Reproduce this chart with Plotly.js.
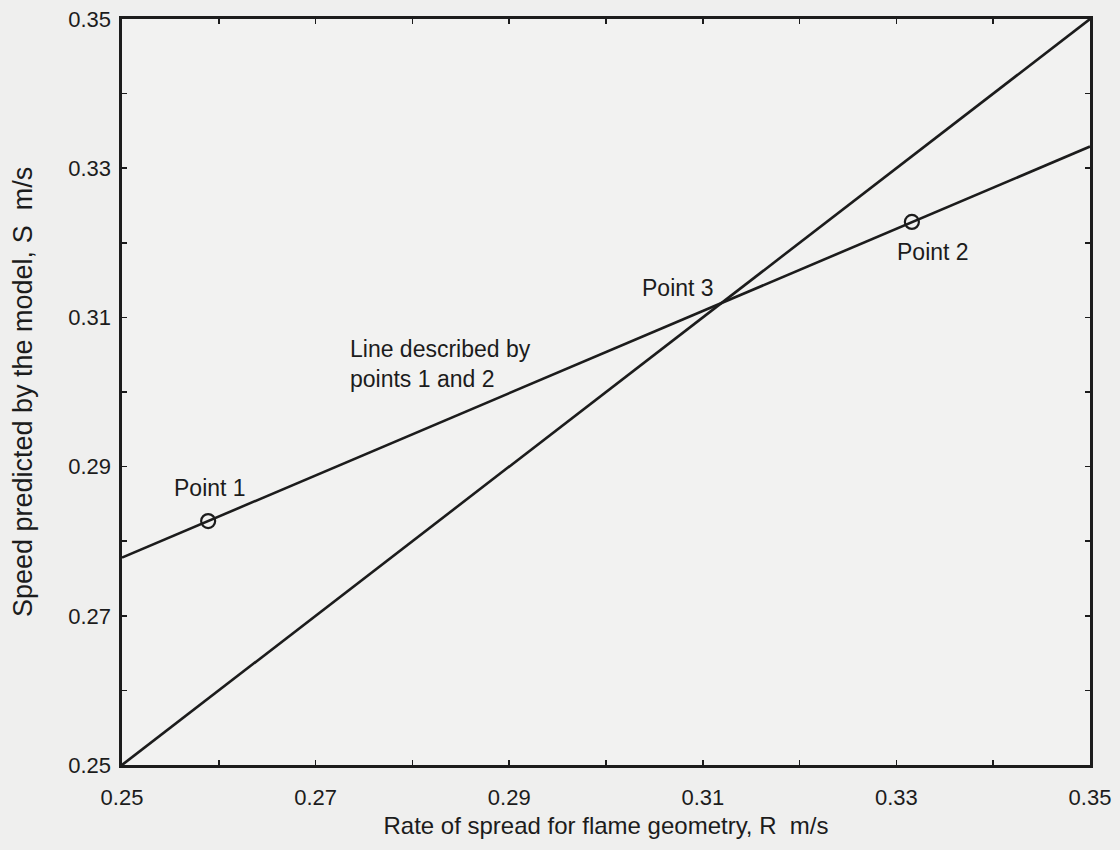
<!DOCTYPE html>
<html>
<head>
<meta charset="utf-8">
<script src="https://cdn.plot.ly/plotly-3.0.1.min.js"></script>
<style>
html,body{margin:0;padding:0;background:#efefee;}
#chart{width:1120px;height:850px;}
</style>
</head>
<body>
<div id="chart"></div>
<script>
// Data
const lineEqualX = [0.25, 0.35];
const lineEqualY = [0.25, 0.35];
const line12X = [0.25, 0.35];
const line12Y = [0.2778, 0.3329];
const pointsX = [0.2589, 0.3316];
const pointsY = [0.2827, 0.3228];
const tickVals = [0.25,0.26,0.27,0.28,0.29,0.30,0.31,0.32,0.33,0.34,0.35];
const tickLabels = ['0.25','','0.27','','0.29','','0.31','','0.33','','0.35'];
const labelTexts = ['Point 1','Point 2','Point 3','Line described by<br>points 1 and 2'];
const labelX = [0.2591, 0.3338, 0.3074, 0.2733];
const labelY = [0.2871, 0.3188, 0.3139, 0.3038];
const labelAnchor = ['center','center','center','left'];

const ink = '#1c1c1c';
const font = 'Liberation Sans, Arial, sans-serif';

const traces = [
  {x: lineEqualX, y: lineEqualY, mode: 'lines', line: {color: ink, width: 2.6}, hoverinfo: 'skip'},
  {x: line12X, y: line12Y, mode: 'lines', line: {color: ink, width: 2.6}, hoverinfo: 'skip'},
  {x: pointsX, y: pointsY, mode: 'markers',
   marker: {symbol: 'circle-open', size: 14, color: ink, line: {width: 2.2, color: ink}}, hoverinfo: 'skip'}
];

const annotations = labelTexts.map((t, i) => ({
  x: labelX[i], y: labelY[i], xref: 'x', yref: 'y', text: t, showarrow: false,
  xanchor: labelAnchor[i], align: 'left', font: {family: font, size: 23, color: ink}
}));

const axisCommon = {
  range: [0.25, 0.35], tickmode: 'array', tickvals: tickVals, ticktext: tickLabels,
  ticks: 'inside', ticklen: 5, tickwidth: 1.5, tickcolor: ink,
  showline: true, linecolor: ink, linewidth: 2.6, mirror: 'ticks',
  showgrid: false, zeroline: false,
  tickfont: {family: font, size: 22, color: ink}
};

const layout = {
  width: 1120, height: 850,
  margin: {l: 122, r: 30, t: 19, b: 85},
  paper_bgcolor: '#efefee', plot_bgcolor: '#f2f2f1',
  showlegend: false,
  xaxis: Object.assign({}, axisCommon, {
    ticklabelstandoff: 11,
    title: {text: 'Rate of spread for flame geometry, R  m/s', font: {family: font, size: 24, color: ink}, standoff: 8}
  }),
  yaxis: Object.assign({}, axisCommon, {
    ticklabelstandoff: 4,
    title: {text: 'Speed predicted by the model, S  m/s', font: {family: font, size: 27, color: ink}, standoff: 28}
  }),
  annotations: annotations
};

Plotly.newPlot('chart', traces, layout, {staticPlot: true, displayModeBar: false});
</script>
</body>
</html>
